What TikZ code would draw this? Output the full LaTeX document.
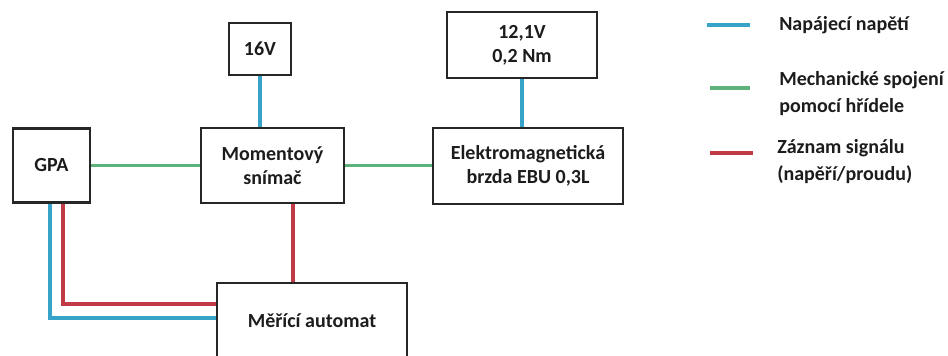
\documentclass[tikz,border=0pt]{standalone}
\usepackage{fontspec}
\setmainfont{Carlito}
\definecolor{cblue}{HTML}{37A3C9}
\definecolor{cgreen}{HTML}{5DB27B}
\definecolor{cred}{HTML}{C23A45}
\definecolor{ctext}{HTML}{1C1C1C}
\begin{document}
\begin{tikzpicture}[x=0.75pt,y=-0.75pt,
  box/.style={draw=black!85,line width=1.6pt,rectangle,inner sep=0pt,align=center,
    font=\fontsize{15}{18}\selectfont\bfseries,text=ctext},
  lbl/.style={anchor=west,inner sep=0pt,align=left,
    font=\fontsize{15}{20}\selectfont\bfseries,text=ctext},
  pw/.style={cblue,line width=2.4pt},
  mech/.style={cgreen,line width=2.4pt},
  sig/.style={cred,line width=2.4pt}]
\useasboundingbox (0,0) rectangle (948,355);
\clip (0,0) rectangle (948,355);
% boxes
\node[box,minimum width=46.5pt,minimum height=39pt] (v16) at (260,49) {16V};
\node[box,minimum width=57.75pt,minimum height=55.5pt] (gpa) at (51.5,165.5) {GPA};
\node[box,minimum width=107.25pt,minimum height=56.25pt] (mom) at (272.5,165.5) {Momentový\\snímač};
\node[box,minimum width=142.5pt,minimum height=57pt] (el) at (528,166) {Elektromagnetická\\brzda EBU 0,3L};
\node[box,minimum width=112.5pt,minimum height=49.5pt] (v12) at (522,45) {12,1V\\0,2 Nm};
\node[box,minimum width=142.5pt,minimum height=57pt] (mer) at (312,321) {Měřící automat};
% connectors
\draw[pw] (v16.south) -- (v16.south |- mom.north);
\draw[pw] (v12.south) -- (v12.south |- el.north);
\draw[mech] (gpa.east) -- (gpa.east -| mom.west);
\draw[mech] (mom.east) -- (mom.east -| el.west);
\draw[sig] (mom.south -| 293,0) -- (mer.north -| 293,0);
\draw[sig] (gpa.south -| 63,0) -- (63,304) -- (mer.west |- 0,304);
\draw[pw] (gpa.south -| 50,0) -- (50,318) -- (mer.west |- 0,318);
% legend
\coordinate (l1a) at (707,25); \coordinate (l1b) at (750,25);
\coordinate (l2a) at (710,88); \coordinate (l2b) at (750,88);
\coordinate (l3a) at (710,153); \coordinate (l3b) at (753,153);
\draw[pw] (l1a) -- (l1b);
\draw[mech] (l2a) -- (l2b);
\draw[sig] (l3a) -- (l3b);
\node[lbl] (t1) at (779,25) {Napájecí napětí};
\node[lbl] (t2) at (779,93.5) {Mechanické spojení\\pomocí hřídele};
\node[lbl] (t3) at (777,161.5) {Záznam signálu\\(napěří/proudu)};
\end{tikzpicture}
\end{document}
